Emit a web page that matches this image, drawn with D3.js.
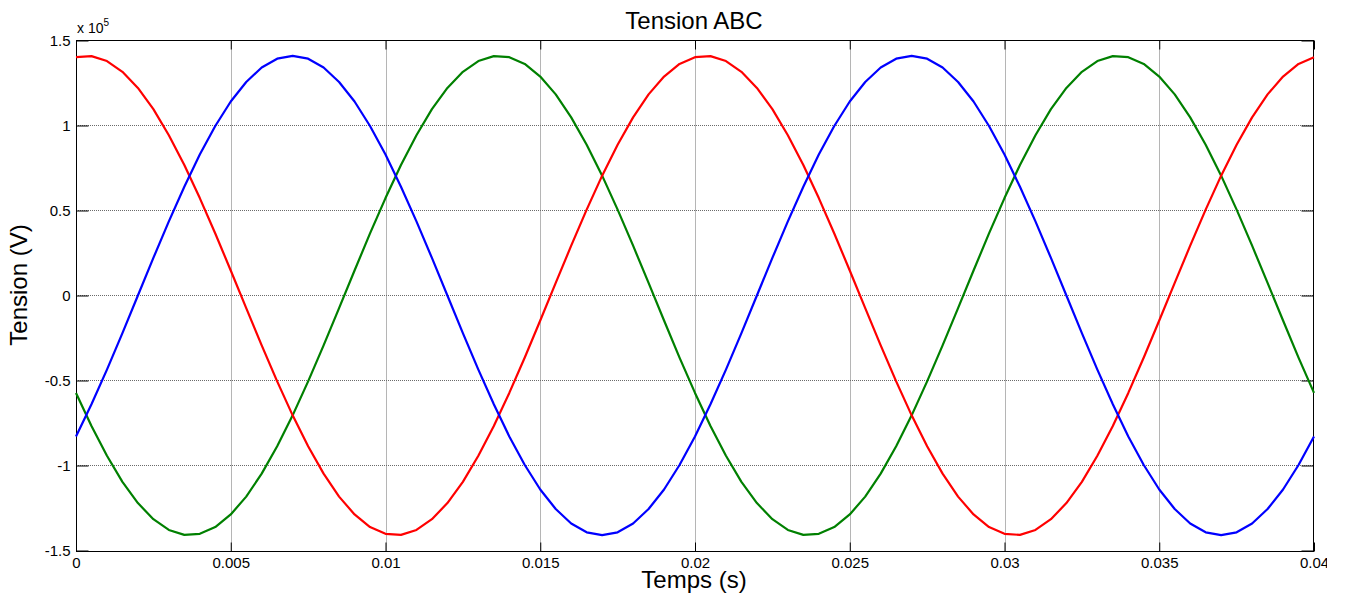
<!DOCTYPE html>
<html>
<head>
<meta charset="utf-8">
<script src="https://cdn.jsdelivr.net/npm/d3@7"></script>
<style>
body{margin:0;background:#fff}
svg{display:block;font-family:"Liberation Sans",Arial,sans-serif}
</style>
</head>
<body>
<div id="chart"></div>
<script>
// temps (s)
const temps = [0,0.0005,0.001,0.0015,0.002,0.0025,0.003,0.0035,0.004,0.0045,
  0.005,0.0055,0.006,0.0065,0.007,0.0075,0.008,0.0085,0.009,0.0095,
  0.01,0.0105,0.011,0.0115,0.012,0.0125,0.013,0.0135,0.014,0.0145,
  0.015,0.0155,0.016,0.0165,0.017,0.0175,0.018,0.0185,0.019,0.0195,
  0.02,0.0205,0.021,0.0215,0.022,0.0225,0.023,0.0235,0.024,0.0245,
  0.025,0.0255,0.026,0.0265,0.027,0.0275,0.028,0.0285,0.029,0.0295,
  0.03,0.0305,0.031,0.0315,0.032,0.0325,0.033,0.0335,0.034,0.0345,
  0.035,0.0355,0.036,0.0365,0.037,0.0375,0.038,0.0385,0.039,0.0395,0.04];

// phase A (rouge)
const tensionA = [140200,140800,137900,131600,122100,109600,94300,76800,57300,36500,
  14700,-7400,-29300,-50500,-70500,-88700,-104800,-118300,-128800,-136200,
  -140200,-140800,-137900,-131600,-122100,-109600,-94300,-76800,-57300,-36500,
  -14700,7400,29300,50500,70500,88700,104800,118300,128800,136200,
  140200,140800,137900,131600,122100,109600,94300,76800,57300,36500,
  14700,-7400,-29300,-50500,-70500,-88700,-104800,-118300,-128800,-136200,
  -140200,-140800,-137900,-131600,-122100,-109600,-94300,-76800,-57300,-36500,
  -14700,7400,29300,50500,70500,88700,104800,118300,128800,136200,140200];

// phase B (bleu)
const tensionB = [-82900,-64000,-43600,-22100,0,22100,43600,64000,82900,99700,
  114100,125600,134100,139300,141000,139300,134100,125600,114100,99700,
  82900,64000,43600,22100,0,-22100,-43600,-64000,-82900,-99700,
  -114100,-125600,-134100,-139300,-141000,-139300,-134100,-125600,-114100,-99700,
  -82900,-64000,-43600,-22100,0,22100,43600,64000,82900,99700,
  114100,125600,134100,139300,141000,139300,134100,125600,114100,99700,
  82900,64000,43600,22100,0,-22100,-43600,-64000,-82900,-99700,
  -114100,-125600,-134100,-139300,-141000,-139300,-134100,-125600,-114100,-99700,-82900];

// phase C (vert)
const tensionC = [-57300,-76800,-94300,-109600,-122100,-131600,-137900,-140800,-140200,-136200,
  -128800,-118300,-104800,-88700,-70500,-50500,-29300,-7400,14700,36500,
  57300,76800,94300,109600,122100,131600,137900,140800,140200,136200,
  128800,118300,104800,88700,70500,50500,29300,7400,-14700,-36500,
  -57300,-76800,-94300,-109600,-122100,-131600,-137900,-140800,-140200,-136200,
  -128800,-118300,-104800,-88700,-70500,-50500,-29300,-7400,14700,36500,
  57300,76800,94300,109600,122100,131600,137900,140800,140200,136200,
  128800,118300,104800,88700,70500,50500,29300,7400,-14700,-36500,-57300];

const xTicks = [0,0.005,0.01,0.015,0.02,0.025,0.03,0.035,0.04];
const xTickLabels = ["0","0.005","0.01","0.015","0.02","0.025","0.03","0.035","0.04"];
const yTicks = [-150000,-100000,-50000,0,50000,100000,150000];
const yTickLabels = ["-1.5","-1","-0.5","0","0.5","1","1.5"];

const W = 1346, H = 595;
const mLeft = 76, mRight = 1314, mTop = 40.5, mBottom = 550.5;

const svg = d3.select("#chart").append("svg")
  .attr("width", W).attr("height", H);

svg.append("clipPath").attr("id","page")
  .append("rect").attr("x",0).attr("y",0).attr("width",1327).attr("height",H);
const root = svg.append("g").attr("clip-path","url(#page)");

const x = d3.scaleLinear().domain([0,0.04]).range([mLeft,mRight]);
const y = d3.scaleLinear().domain([-150000,150000]).range([mBottom,mTop]);

// grille
const grid = root.append("g").attr("stroke","#6a6a6a").attr("stroke-dasharray","1,1").attr("stroke-width",1);
grid.selectAll(".gx").data(xTicks.slice(1,-1)).enter().append("line")
  .attr("x1",d=>Math.round(x(d))+0.5).attr("x2",d=>Math.round(x(d))+0.5)
  .attr("y1",mTop).attr("y2",mBottom+1);
grid.selectAll(".gy").data(yTicks.slice(1,-1)).enter().append("line")
  .attr("y1",d=>Math.round(y(d)-0.5)+0.5).attr("y2",d=>Math.round(y(d)-0.5)+0.5)
  .attr("x1",mLeft).attr("x2",mRight);

// axes
const fmtX = d => xTickLabels[xTicks.indexOf(d)];
const fmtY = d => yTickLabels[yTicks.indexOf(d)];

const axB = root.append("g").attr("transform","translate(0,"+(mBottom+1)+")")
  .call(d3.axisBottom(x).tickValues(xTicks).tickFormat(fmtX).tickSizeInner(-9).tickSizeOuter(0).tickPadding(6));
const axT = root.append("g").attr("transform","translate(0,"+mTop+")")
  .call(d3.axisTop(x).tickValues(xTicks).tickFormat("").tickSizeInner(-9).tickSizeOuter(0));
const axL = root.append("g").attr("transform","translate("+(mLeft+0.5)+",0)")
  .call(d3.axisLeft(y).tickValues(yTicks).tickFormat(fmtY).tickSizeInner(-12).tickSizeOuter(0).tickPadding(6));
const axR = root.append("g").attr("transform","translate("+(mRight-0.5)+",0)")
  .call(d3.axisRight(y).tickValues(yTicks).tickFormat("").tickSizeInner(-12).tickSizeOuter(0));

[axB,axT,axL,axR].forEach(a=>{
  a.select(".domain").remove();
  a.selectAll("line").attr("stroke","#000");
  a.selectAll("text").attr("fill","#000").style("font-family",'"Liberation Sans",Arial,sans-serif').style("font-size","15px");
});

// cadre
root.append("rect").attr("x",mLeft+0.5).attr("y",mTop).attr("width",mRight-mLeft-1).attr("height",mBottom+1-mTop)
  .attr("fill","none").attr("stroke","#000").attr("stroke-width",1);

// courbes
const line = d3.line().x((d,i)=>x(temps[i])).y(d=>y(d));
const series = [
  {v:tensionC, c:"#008000"},
  {v:tensionA, c:"#ff0000"},
  {v:tensionB, c:"#0000ff"}
];
root.selectAll(".serie").data(series).enter().append("path")
  .attr("d",d=>line(d.v))
  .attr("fill","none")
  .attr("stroke",d=>d.c)
  .attr("stroke-width",2.2)
  .attr("stroke-linejoin","round");

// textes
root.append("text").attr("x",694).attr("y",29).attr("text-anchor","middle")
  .style("font-size","24px").text("Tension ABC");
root.append("text").attr("x",694).attr("y",588).attr("text-anchor","middle")
  .style("font-size","24px").text("Temps (s)");
root.append("text").attr("transform","translate(27,285) rotate(-90)").attr("text-anchor","middle")
  .style("font-size","24px").text("Tension (V)");
const ex = root.append("text").attr("x",77).attr("y",33).style("font-size","14px");
ex.append("tspan").text("x 10");
ex.append("tspan").attr("dy",-7).style("font-size","10px").text("5");
</script>
</body>
</html>
